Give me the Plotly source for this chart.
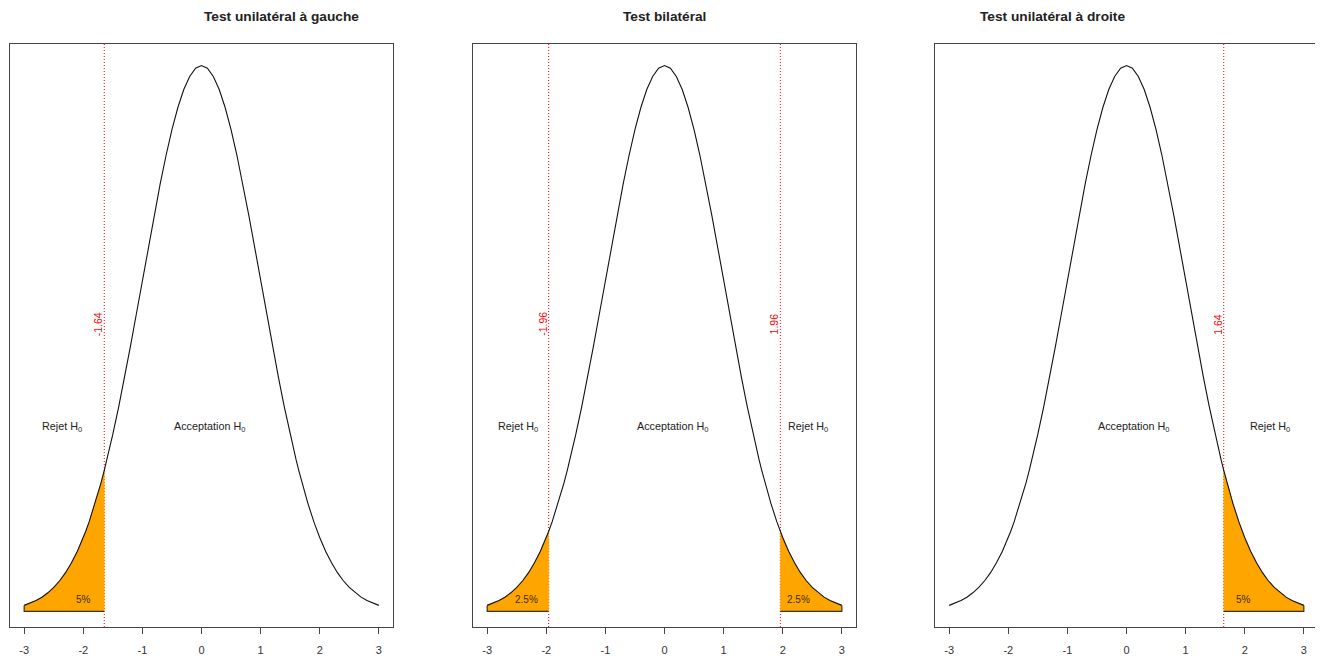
import plotly.graph_objects as go

# Standard normal density (half curve, x >= 0; symmetric)
half_x = [0.0, 0.1, 0.2, 0.3, 0.4, 0.5, 0.6, 0.7, 0.8, 0.9, 1.0, 1.1, 1.2, 1.3, 1.4, 1.5,
          1.6, 1.645, 1.7, 1.8, 1.9, 1.96, 2.0, 2.1, 2.2, 2.3, 2.4, 2.5, 2.6, 2.7, 2.8, 2.9, 3.0]
half_y = [0.3989, 0.3970, 0.3910, 0.3814, 0.3683, 0.3521, 0.3332, 0.3123, 0.2897, 0.2661,
          0.2420, 0.2179, 0.1942, 0.1714, 0.1497, 0.1295, 0.1109, 0.1031, 0.0940, 0.0790,
          0.0656, 0.0584, 0.0540, 0.0440, 0.0355, 0.0283, 0.0224, 0.0175, 0.0136, 0.0104,
          0.0079, 0.0060, 0.0044]

curve_x = [-v for v in half_x[::-1]] + half_x[1:]
curve_y = half_y[::-1] + half_y[1:]

titles = ["Test unilatéral à gauche", "Test bilatéral", "Test unilatéral à droite"]
tick_vals = [-3, -2, -1, 0, 1, 2, 3]
tick_text = ["-3", "-2", "-1", "0", "1", "2", "3"]

# critical values per panel, and label text
crit_vals = [[-1.645], [-1.96, 1.96], [1.645]]
crit_labels = [["-1.64"], ["-1.96", "1.96"], ["1.64"]]
# rejection regions (lo, hi) per panel
reject_regions = [[(-3.0, -1.645)], [(-3.0, -1.96), (1.96, 3.0)], [(1.645, 3.0)]]
# percentage labels (x, text)
pct_labels = [[(-2.0, "5%")], [(-2.34, "2.5%"), (2.27, "2.5%")], [(1.98, "5%")]]
# region labels (x, text)
region_labels = [
    [(-2.36, "Rejet H<sub>0</sub>"), (0.13, "Acceptation H<sub>0</sub>")],
    [(-2.48, "Rejet H<sub>0</sub>"), (0.13, "Acceptation H<sub>0</sub>"), (2.43, "Rejet H<sub>0</sub>")],
    [(0.12, "Acceptation H<sub>0</sub>"), (2.42, "Rejet H<sub>0</sub>")],
]
region_label_y = 0.135
crit_label_y = 0.21
pct_label_y = 0.009

# page body has an 8px margin: figure origin sits at (8, 8) in the window
OFF = 8
W, H = 1323 - OFF, 658 - OFF
lefts_px = [10 - OFF, 473 - OFF, 935 - OFF]
panel_w = 383
top_px, bottom_px = 44 - OFF, 627 - OFF
title_px = 17 - OFF

fig = go.Figure()
annotations = []
shapes = []

for i in range(3):
    xa = "x" if i == 0 else f"x{i+1}"
    ya = "y" if i == 0 else f"y{i+1}"
    # rejection polygons
    for lo, hi in reject_regions[i]:
        px = [x for x in curve_x if lo - 1e-9 <= x <= hi + 1e-9]
        py = [y for x, y in zip(curve_x, curve_y) if lo - 1e-9 <= x <= hi + 1e-9]
        polx = px + [hi, lo, lo]
        poly = py + [0, 0, py[0]]
        fig.add_trace(go.Scatter(x=polx, y=poly, mode="lines", fill="toself",
                                 fillcolor="#FFA500", line=dict(color="#FFA500", width=0.5),
                                 xaxis=xa, yaxis=ya, showlegend=False, hoverinfo="skip"))
        # dark outer border (bottom and outer tail edge)
        if lo <= -3:
            bx, by = [lo, lo, hi], [py[0], 0, 0]
        else:
            bx, by = [lo, hi, hi], [0, 0, py[-1]]
        fig.add_trace(go.Scatter(x=bx, y=by, mode="lines", line=dict(color="#3b3520", width=1.2),
                                 xaxis=xa, yaxis=ya, showlegend=False, hoverinfo="skip"))
    fig.add_trace(go.Scatter(x=curve_x, y=curve_y, mode="lines",
                             line=dict(color="#111", width=1.1),
                             xaxis=xa, yaxis=ya, showlegend=False))
    for c, lab in zip(crit_vals[i], crit_labels[i]):
        shapes.append(dict(type="line", xref=xa, yref=f"{ya} domain", x0=c, x1=c, y0=0, y1=1,
                           layer="below", line=dict(color="red", width=1, dash="1px,2px")))
        annotations.append(dict(x=c, y=crit_label_y, xref=xa, yref=ya, text=lab, textangle=-90,
                                showarrow=False, xshift=-6, font=dict(color="red", size=10.5)))
    for x, t in pct_labels[i]:
        annotations.append(dict(x=x, y=pct_label_y, xref=xa, yref=ya, text=t, showarrow=False,
                                font=dict(color="#3a3000", size=10)))
    for x, t in region_labels[i]:
        annotations.append(dict(x=x, y=region_label_y, xref=xa, yref=ya, text=t, showarrow=False,
                                font=dict(color="#222", size=10.8)))
    x0 = lefts_px[i] / W
    x1 = (lefts_px[i] + panel_w) / W
    annotations.append(dict(x=(x0 + x1) / 2, y=1 - title_px / H, xref="paper", yref="paper",
                            text=f"<b>{titles[i]}</b>", showarrow=False, yanchor="middle",
                            font=dict(color="#222", size=13.7)))
    axis_common = dict(showgrid=False, zeroline=False, showline=True, mirror=True,
                       linecolor="#444", linewidth=1)
    fig.update_layout({
        ("xaxis" if i == 0 else f"xaxis{i+1}"): dict(
            domain=[x0, x1], range=[-3.24, 3.24], anchor=ya,
            tickvals=tick_vals, ticktext=tick_text, ticks="outside", ticklen=6,
            ticklabelstandoff=7,
            tickcolor="#444", tickfont=dict(size=11, color="#333"), **axis_common),
        ("yaxis" if i == 0 else f"yaxis{i+1}"): dict(
            domain=[(H - bottom_px) / H, (H - top_px) / H], range=[-0.0114, 0.4147], anchor=xa,
            showticklabels=False, ticks="", **axis_common),
    })

fig.update_layout(width=W, height=H, margin=dict(l=0, r=0, t=0, b=0),
                  paper_bgcolor="white", plot_bgcolor="white",
                  font=dict(family="Liberation Sans, Arial, sans-serif"),
                  annotations=annotations, shapes=shapes, showlegend=False)

fig.write_html("out.html")
